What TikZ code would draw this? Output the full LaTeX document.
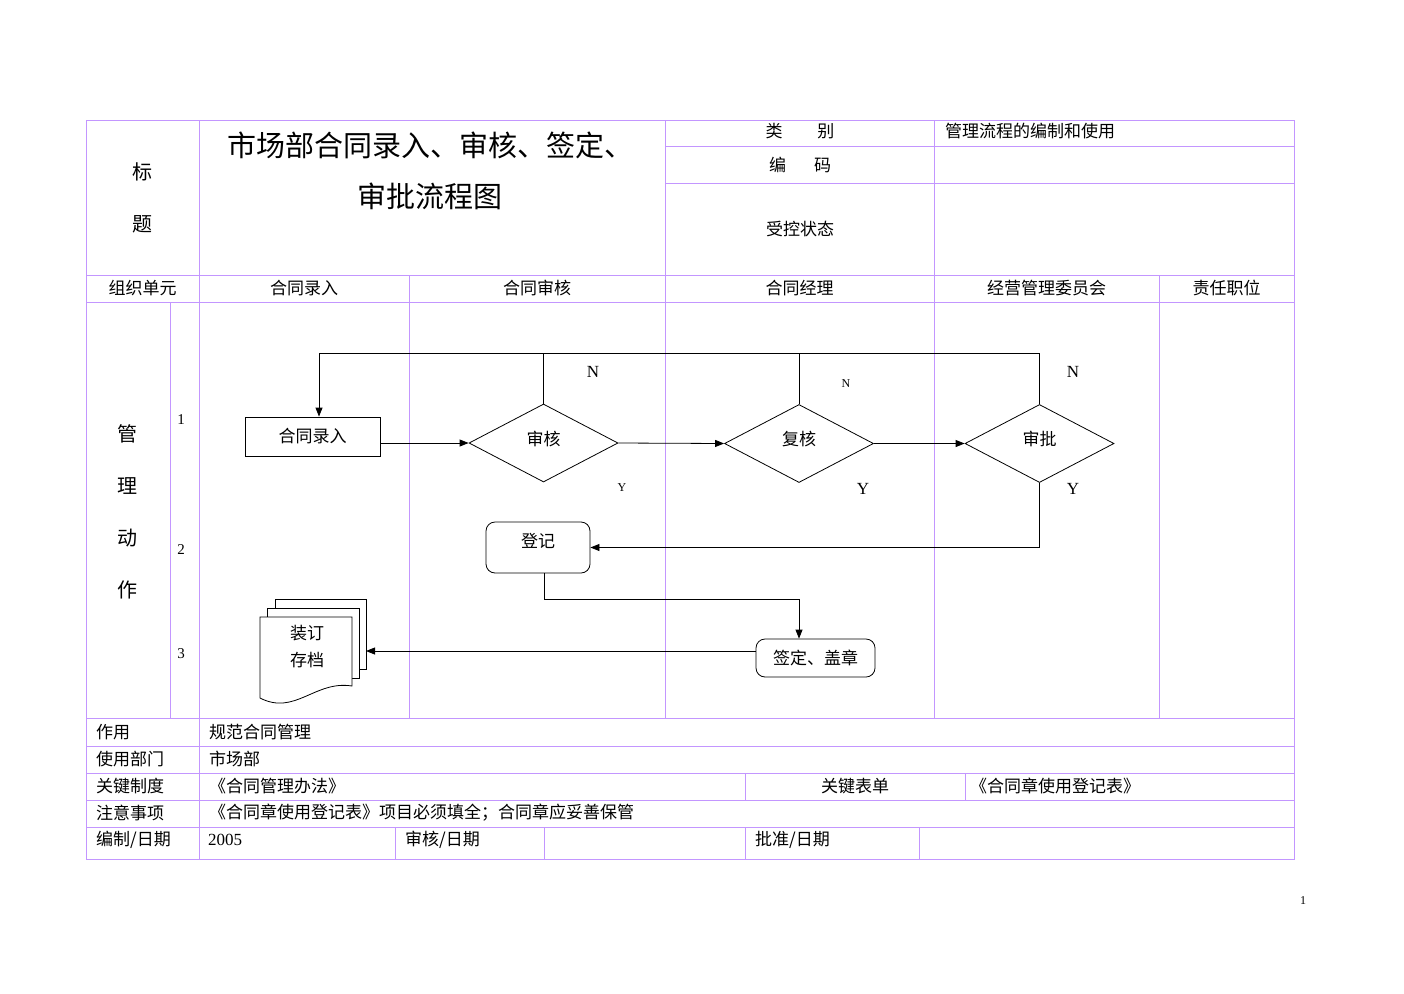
\documentclass[tikz,border=0pt]{standalone}
\usepackage{fontspec}
\setmainfont{Liberation Serif}
\newfontfamily\cjk{Noto Sans CJK SC}
\usepackage{tikz}
\usetikzlibrary{positioning, shapes.geometric, arrows.meta, calc}
\definecolor{gridline}{RGB}{195,150,255}

\begin{document}
\begin{tikzpicture}[x=1pt, y=-1pt,
	formline/.style={draw=gridline, line width=0.8pt},
	cell/.style={font=\cjk\fontsize{17}{19}\selectfont, inner sep=0pt},
	procbox/.style={draw, line width=0.8pt, font=\cjk\fontsize{17}{19}\selectfont, minimum width=135pt, minimum height=39pt, inner sep=0pt},
	decision/.style={draw, diamond, line width=0.8pt, font=\cjk\fontsize{17}{19}\selectfont, minimum width=149pt, minimum height=78pt, inner sep=0pt, text depth=10pt},
	softbox/.style={draw, rounded corners=9pt, line width=0.8pt, font=\cjk\fontsize{17}{19}\selectfont, inner sep=0pt},
	link/.style={line width=0.8pt},
	flow/.style={line width=0.8pt, -{Triangle[length=9pt,width=7pt]}},
	yn/.style={font=\fontsize{17}{19}\selectfont, inner sep=0pt},
	ynsmall/.style={font=\fontsize{12}{14}\selectfont, inner sep=0pt}]
	\useasboundingbox (0,0) rectangle (1404,993);
	
	% form grid
	\draw[formline] (86,120) rectangle (1294,859);
	\draw[formline] (665,146) -- (1294,146);
	\draw[formline] (665,183) -- (1294,183);
	\draw[formline] (86,275) -- (1294,275);
	\draw[formline] (86,302) -- (1294,302);
	\draw[formline] (86,718) -- (1294,718);
	\draw[formline] (86,746) -- (1294,746);
	\draw[formline] (86,773) -- (1294,773);
	\draw[formline] (86,800) -- (1294,800);
	\draw[formline] (86,827) -- (1294,827);
	\draw[formline] (199,120) -- (199,859);
	\draw[formline] (665,120) -- (665,718);
	\draw[formline] (934,120) -- (934,718);
	\draw[formline] (409,275) -- (409,718);
	\draw[formline] (1159,275) -- (1159,718);
	\draw[formline] (170,302) -- (170,718);
	\draw[formline] (745,773) -- (745,800);
	\draw[formline] (965,773) -- (965,800);
	\draw[formline] (395,827) -- (395,859);
	\draw[formline] (544,827) -- (544,859);
	\draw[formline] (745,827) -- (745,859);
	\draw[formline] (919,827) -- (919,859);
	
	% header
	\node[cell, font=\cjk\fontsize{20}{52}\selectfont, align=center] (head) at (142,198) {标\\题};
	\node[cell, font=\cjk\fontsize{29}{51}\selectfont, align=center] (title) at (430,171) {市场部合同录入、审核、签定、\\审批流程图};
	\node[cell] (kind) at (800,131) {类\hspace{35pt}别};
	\node[cell] (code) at (800,165) {编\hspace{28pt}码};
	\node[cell] (state) at (800,229) {受控状态};
	\node[cell, anchor=west] (kindval) at (945,131) {管理流程的编制和使用};
	
	\node[cell] (unit) at (142.5,288) {组织单元};
	\node[cell] (laneA) at (304,288) {合同录入};
	\node[cell] (laneB) at (537,288) {合同审核};
	\node[cell] (laneC) at (799.5,288) {合同经理};
	\node[cell] (laneD) at (1046.5,288) {经营管理委员会};
	\node[cell] (laneE) at (1226.5,288) {责任职位};
	
	\node[cell, font=\cjk\fontsize{20}{52}\selectfont, align=center] (action) at (127,511.5) {管\\理\\动\\作};
	\node[font=\fontsize{15}{17}\selectfont, inner sep=0pt] (stepA) at (181,420) {1};
	\node[font=\fontsize{15}{17}\selectfont, inner sep=0pt] (stepB) at (181,550) {2};
	\node[font=\fontsize{15}{17}\selectfont, inner sep=0pt] (stepC) at (181,654) {3};
	
	% flow
	\node[procbox] (entry) at (312.5,436.5) {合同录入};
	\node[decision] (check) at (543.5,443) {审核};
	\node[decision] (recheck) at (799,443.5) {复核};
	\node[decision] (approve) at (1039.5,443.5) {审批};
	\node[softbox, minimum width=104pt, minimum height=51pt, text depth=14pt] (register) at (538,547.5) {登记};
	\node[softbox, minimum width=119pt, minimum height=38pt] (sign) at (815.5,658) {签定、盖章};
	
	\draw[link, fill=white] (275,599) rectangle (366,669);
	\draw[link, fill=white] (267,608) rectangle (359,678);
	\draw[link, fill=white] (260,617) -- (352,617) -- (352,686)
		.. controls (315,680) and (295,716) .. (260,698) -- cycle;
	\node[cell, font=\cjk\fontsize{17}{27}\selectfont, align=center] (archive) at (307,646.5) {装订\\存档};
	\coordinate (archR) at (366,651);
	\coordinate (loop) at (319,353);
	\coordinate (join) at (799,599);
	
	\draw[flow] (entry.east |- check.west) -- (check.west);
	\draw[flow] (check.east) -- (recheck.west);
	\draw[flow] (recheck.east) -- (approve.west);
	\draw[flow] (approve.north) |- (loop) -- (loop |- entry.north);
	\draw[link] (check.north) -- (check.north |- loop);
	\draw[link] (recheck.north) -- (recheck.north |- loop);
	\draw[flow] (approve.south) |- (register.east);
	\draw[flow] ([xshift=6pt]register.south) |- (join) -- (join |- sign.north);
	\draw[flow] (sign.west |- archR) -- (archR);
	
	\node[yn] (noA) at (593,372) {N};
	\node[ynsmall] (noB) at (846,384) {N};
	\node[yn] (noC) at (1073,372) {N};
	\node[ynsmall] (yesA) at (622,488) {Y};
	\node[yn] (yesB) at (863,489) {Y};
	\node[yn] (yesC) at (1073,489) {Y};
	
	% footer rows
	\node[cell, anchor=west] (useL) at (96,732) {作用};
	\node[cell, anchor=west] (useV) at (209,732) {规范合同管理};
	\node[cell, anchor=west] (deptL) at (96,759) {使用部门};
	\node[cell, anchor=west] (deptV) at (209,759) {市场部};
	\node[cell, anchor=west] (ruleL) at (96,786) {关键制度};
	\node[cell, anchor=west] (ruleV) at (209,786) {《合同管理办法》};
	\node[cell] (formL) at (855,786) {关键表单};
	\node[cell, anchor=west] (formV) at (970,786) {《合同章使用登记表》};
	\node[cell, anchor=west] (noteL) at (96,813) {注意事项};
	\node[cell, anchor=west] (noteV) at (209,813) {《合同章使用登记表》项目必须填全；合同章应妥善保管};
	\node[cell, anchor=west] (makeL) at (96,840) {编制/日期};
	\node[font=\fontsize{17}{19}\selectfont, inner sep=0pt, anchor=west] (makeV) at (208,840) {2005};
	\node[cell, anchor=west] (checkL) at (405,840) {审核/日期};
	\node[cell, anchor=west] (passL) at (755,840) {批准/日期};
	
	\node[font=\fontsize{12}{14}\selectfont, inner sep=0pt] (pageno) at (1303,901) {1};
\end{tikzpicture}
\end{document}
